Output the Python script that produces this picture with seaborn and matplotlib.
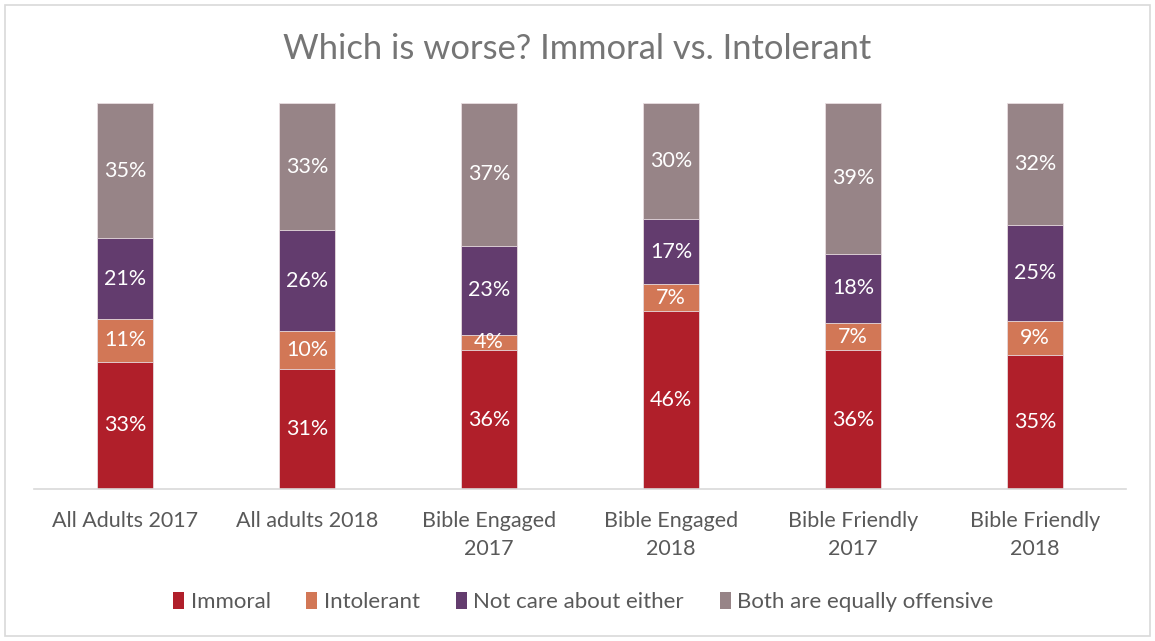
import numpy as np
import pandas as pd
import matplotlib
matplotlib.use("Agg")
import matplotlib.pyplot as plt
from matplotlib.patches import Rectangle, Patch
import seaborn as sns

groups = ["All Adults 2017", "All adults 2018", "Bible Engaged\n2017",
          "Bible Engaged\n2018", "Bible Friendly\n2017", "Bible Friendly\n2018"]
series = ["Immoral", "Intolerant", "Not care about either", "Both are equally offensive"]
immoral = [33, 31, 36, 46, 36, 35]
intolerant = [11, 10, 4, 7, 7, 9]
not_care = [21, 26, 23, 17, 18, 25]
both = [35, 33, 37, 30, 39, 32]
colors = ["#B01F2A", "#D27756", "#633C6E", "#978487"]

sns.set_theme(style="white")
plt.rcParams["font.family"] = ["Lato", "DejaVu Sans"]

values = np.array([immoral, intolerant, not_care, both], dtype=float)
totals = values.sum(axis=0)
shares = values / totals          # 100% stacked
tops = np.cumsum(shares, axis=0)
bottoms = tops - shares

fig = plt.figure(figsize=(11.55, 6.41), dpi=100)
ax = fig.add_axes([34 / 1155, 1 - 489 / 641, (1126 - 34) / 1155, (489 - 103) / 641])

# draw cumulative layers from the top down so each segment shows its own band
for i in range(len(series) - 1, -1, -1):
    df = pd.DataFrame({"group": groups, "top": tops[i]})
    sns.barplot(data=df, x="group", y="top", color=colors[i], width=0.31,
                saturation=1, edgecolor="#E8DDE0", linewidth=0.6, ax=ax)

for i in range(len(series)):
    for j in range(len(groups)):
        ax.text(j, bottoms[i, j] + shares[i, j] / 2, f"{int(values[i, j])}%",
                ha="center", va="center", color="white", fontsize=15.5)

ax.set_ylim(0, 1)
ax.set_xlim(-0.5, len(groups) - 0.5)
ax.set_xlabel("")
ax.set_ylabel("")
ax.set_yticks([])
ax.tick_params(axis="x", length=0, pad=15.5, labelsize=15.5, labelcolor="#595959")
for lbl in ax.get_xticklabels():
    lbl.set_linespacing(1.5)
for s in ["left", "right", "top"]:
    ax.spines[s].set_visible(False)
ax.spines["bottom"].set_color("#D9D9D9")
ax.spines["bottom"].set_linewidth(1.2)

fig.text(0.5, 1 - 49 / 641, "Which is worse? Immoral vs. Intolerant",
         ha="center", va="center", fontsize=24.8, color="#757575")

handles = [Patch(facecolor=c, edgecolor="none") for c in colors]
fig.legend(handles, series, loc="center", bbox_to_anchor=(0.505, 1 - 602 / 641),
           ncol=4, frameon=False, fontsize=16, labelcolor="#595959",
           handlelength=0.5, handleheight=0.8, handletextpad=0.3, columnspacing=1.6)

fig.add_artist(Rectangle((5 / 1155, 5 / 641), 1 - 10 / 1155, 1 - 10 / 641,
                         transform=fig.transFigure, fill=False,
                         edgecolor="#D9D9D9", linewidth=1.2))

fig.savefig("out.png", dpi=100, facecolor="white")
